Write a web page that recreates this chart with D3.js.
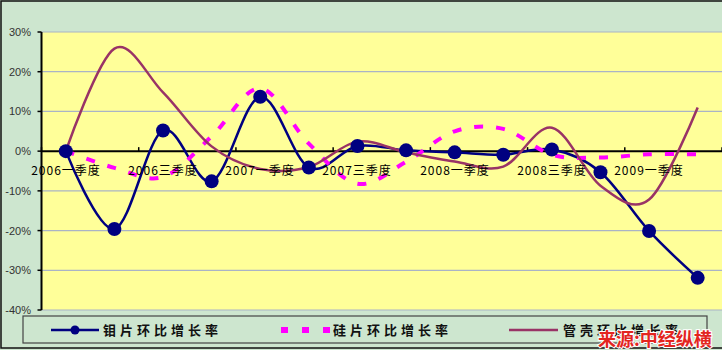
<!DOCTYPE html>
<html lang="zh">
<head>
  <meta charset="UTF-8">
  <title>环比增长率</title>
  <script src="https://d3js.org/d3.v7.min.js"></script>
  <style>
    body { margin: 0; background: #fff; }
    svg { display: block; }
    .ylab { font-family: "Liberation Sans", Arial, sans-serif; font-size: 11px; fill: #333; }
    .xlab { font-family: "Noto Sans CJK SC", sans-serif; font-size: 12px; fill: #000; letter-spacing: 1px; }
    .leg { font-family: "Noto Sans CJK SC", sans-serif; font-size: 13px; font-weight: bold; fill: #111; letter-spacing: 4px; }
    .src { font-family: "Noto Sans CJK SC", sans-serif; font-size: 18px; font-weight: bold; fill: #e3261f;
           stroke: #fff; stroke-width: 2px; paint-order: stroke; }
  </style>
</head>
<body>
  <svg width="722" height="350"></svg>
  <script>
    // quarters 2006Q1 .. 2009Q2
    const quarters = ["2006一季度", "2006二季度", "2006三季度", "2006四季度",
                      "2007一季度", "2007二季度", "2007三季度", "2007四季度",
                      "2008一季度", "2008二季度", "2008三季度", "2008四季度",
                      "2009一季度", "2009二季度"];
    const moly = [0, -19.6, 5.2, -7.6, 13.7, -4.1, 1.3, 0.2, -0.3, -0.9, 0.4, -5.3, -20.1, -31.9];
    const silicon = [0, -4.2, -6.5, 3.7, 15.8, 1.9, -8.2, -2.7, 5.0, 5.6, -0.9, -1.6, -0.8, -0.8];
    const shell = [0, 25.8, 14.8, 1.2, -4.5, -4.0, 2.4, -0.3, -2.6, -3.9, 5.9, -8.7, -12.2, 11.0];
    const yTicks = [30, 20, 10, 0, -10, -20, -30, -40];
    const seriesNames = ["钼片环比增长率", "硅片环比增长率", "管壳环比增长率"];

    const svg = d3.select("svg");
    const plot = {left: 41.5, right: 722, top: 32, bottom: 310};

    // chart background + frame
    svg.append("rect").attr("x", 0).attr("y", 0).attr("width", 722).attr("height", 350).attr("fill", "#cde6cf");
    svg.append("rect").attr("x", 1).attr("y", 1).attr("width", 740).attr("height", 347)
      .attr("fill", "none").attr("stroke", "#111").attr("stroke-width", 1.5);

    const x = d3.scaleBand().domain(quarters).range([plot.left, plot.right]);
    const cx = d => x(d) + x.bandwidth() / 2;
    const y = d3.scaleLinear().domain([-40, 30]).range([plot.bottom, plot.top]);

    svg.append("rect")
      .attr("x", plot.left).attr("y", plot.top)
      .attr("width", plot.right - plot.left).attr("height", plot.bottom - plot.top)
      .attr("fill", "#ffff99");

    // gridlines
    svg.append("g").selectAll("line").data(yTicks.filter(d => d !== 0)).enter().append("line")
      .attr("x1", plot.left).attr("x2", plot.right)
      .attr("y1", d => y(d)).attr("y2", d => y(d))
      .attr("stroke", "#aab4c6").attr("stroke-width", 1.2);

    // y axis
    svg.append("line").attr("x1", plot.left).attr("x2", plot.left)
      .attr("y1", plot.top).attr("y2", plot.bottom).attr("stroke", "#000").attr("stroke-width", 2);
    svg.append("g").selectAll("line").data(yTicks).enter().append("line")
      .attr("x1", plot.left - 4).attr("x2", plot.left)
      .attr("y1", d => y(d)).attr("y2", d => y(d)).attr("stroke", "#000").attr("stroke-width", 1.5);
    svg.append("g").selectAll("text").data(yTicks).enter().append("text")
      .attr("class", "ylab")
      .attr("x", 31).attr("y", d => y(d) + 4)
      .attr("text-anchor", "end")
      .text(d => d + "%");

    // category axis on the zero line
    const y0 = y(0);
    svg.append("line").attr("x1", plot.left).attr("x2", plot.right)
      .attr("y1", y0).attr("y2", y0).attr("stroke", "#000").attr("stroke-width", 2);
    const tickIdx = d3.range(0, quarters.length + 1, 2);
    svg.append("g").selectAll("line").data(tickIdx).enter().append("line")
      .attr("x1", i => plot.left + i * x.bandwidth()).attr("x2", i => plot.left + i * x.bandwidth())
      .attr("y1", y0 - 4).attr("y2", y0).attr("stroke", "#000").attr("stroke-width", 1.5);

    const line = d3.line()
      .x((d, i) => cx(quarters[i]))
      .y(d => y(d))
      .curve(d3.curveCardinal.tension(0));

    svg.append("path").datum(moly).attr("d", line)
      .attr("fill", "none").attr("stroke", "#000080").attr("stroke-width", 2.5);
    svg.append("path").datum(silicon).attr("d", line)
      .attr("fill", "none").attr("stroke", "#ff00ff").attr("stroke-width", 4)
      .attr("stroke-dasharray", "9,13");
    svg.append("path").datum(shell).attr("d", line)
      .attr("fill", "none").attr("stroke", "#993366").attr("stroke-width", 2.5);
    svg.append("g").selectAll("circle").data(moly).enter().append("circle")
      .attr("cx", (d, i) => cx(quarters[i])).attr("cy", d => y(d))
      .attr("r", 7).attr("fill", "#000080");

    // category labels, every second quarter
    svg.append("g").selectAll("text").data(quarters.filter((d, i) => i % 2 === 0)).enter().append("text")
      .attr("class", "xlab")
      .attr("x", d => Math.round(cx(d))).attr("y", Math.round(y0) + 24)
      .attr("text-anchor", "middle")
      .text(d => d);

    // legend
    svg.append("rect").attr("x", 23).attr("y", 316).attr("width", 684).attr("height", 27)
      .attr("fill", "#cde6cf").attr("stroke", "#444").attr("stroke-width", 1.2);
    const ly = 330;
    svg.append("line").attr("x1", 51).attr("x2", 99).attr("y1", ly).attr("y2", ly)
      .attr("stroke", "#000080").attr("stroke-width", 2.5);
    svg.append("circle").attr("cx", 75).attr("cy", ly).attr("r", 4.5).attr("fill", "#000080");
    svg.append("line").attr("x1", 281).attr("x2", 331).attr("y1", ly).attr("y2", ly)
      .attr("stroke", "#ff00ff").attr("stroke-width", 6).attr("stroke-dasharray", "7,14");
    svg.append("line").attr("x1", 509).attr("x2", 558).attr("y1", ly).attr("y2", ly)
      .attr("stroke", "#993366").attr("stroke-width", 2.5);
    const legX = [103, 333, 563];
    svg.append("g").selectAll("text").data(seriesNames).enter().append("text")
      .attr("class", "leg")
      .attr("x", (d, i) => legX[i]).attr("y", ly + 5)
      .text(d => d);

    // source watermark
    svg.append("text").attr("class", "src")
      .attr("x", 598).attr("y", 346)
      .text("来源:中经纵横");
  </script>
</body>
</html>
